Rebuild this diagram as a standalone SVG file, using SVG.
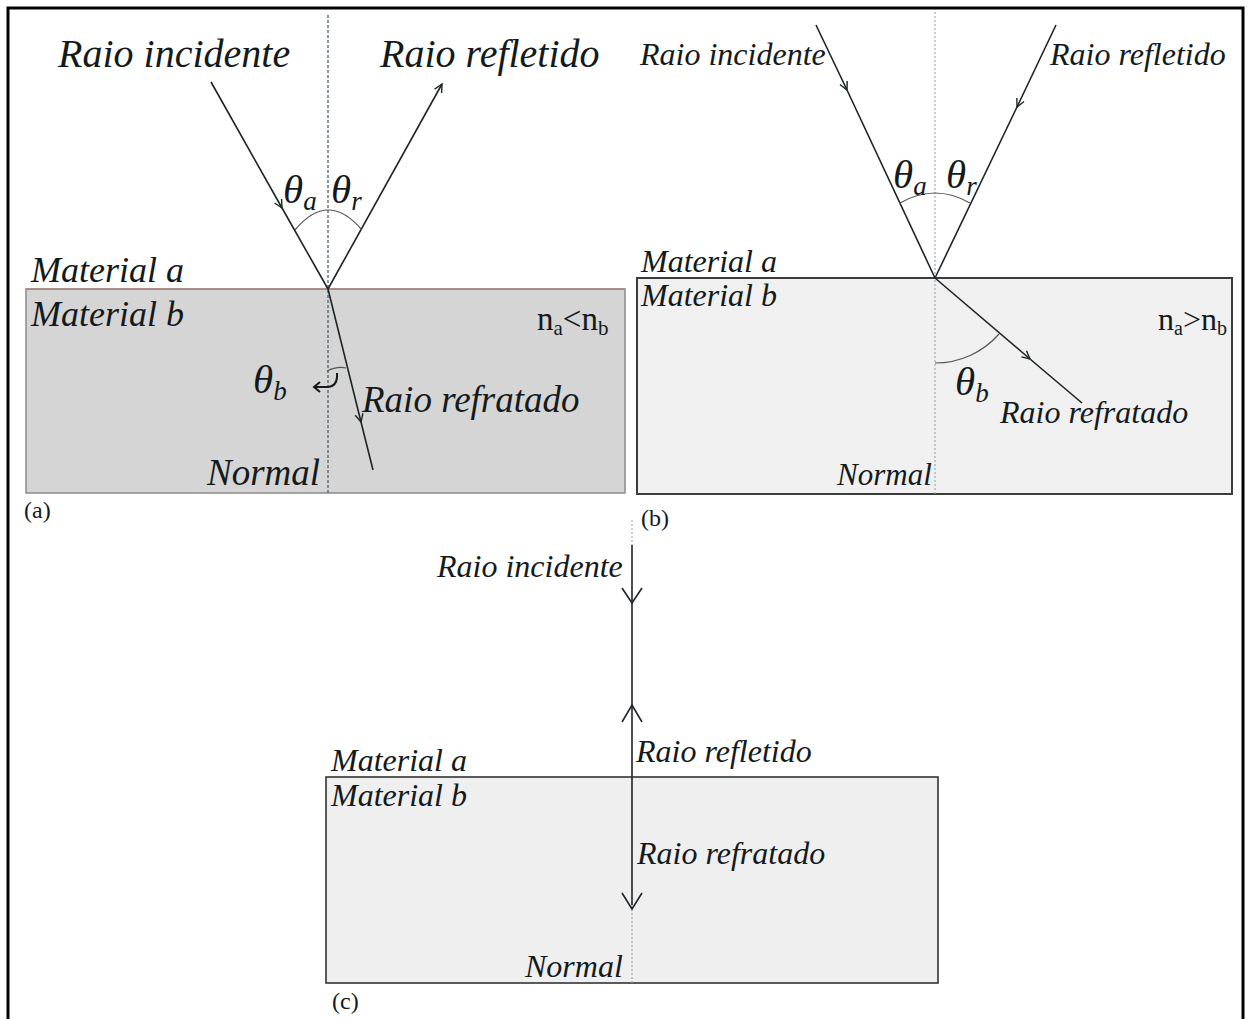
<svg xmlns="http://www.w3.org/2000/svg" width="1248" height="1019" viewBox="0 0 1248 1019">
<style>
.it{font-family:"Liberation Serif","Times New Roman",serif;font-style:italic;fill:#141a1c}
.up{font-family:"Liberation Serif","Times New Roman",serif;fill:#141a1c}
.ray{stroke:#1e2426;stroke-width:1.6;fill:none}
.normA{stroke:#4f5e6c;stroke-width:1.3;stroke-dasharray:3 2;fill:none}
.normB{stroke:#8fa3b0;stroke-width:1.1;stroke-dasharray:2 2;fill:none}
.arc{stroke:#555;stroke-width:1.2;fill:none}
.chev{stroke:#1e2426;stroke-width:1.6;fill:none}
</style>
<defs>
<marker id="arr" viewBox="0 0 10 10" refX="9" refY="5" markerWidth="10" markerHeight="10" markerUnits="userSpaceOnUse" orient="auto">
<path d="M1,1 L9,5 L1,9" fill="none" stroke="#1e2426" stroke-width="1.4"/>
</marker>
</defs>
<rect x="0" y="0" width="1248" height="1019" fill="#fff"/>
<g id="frame" stroke="#000" stroke-width="3" fill="none">
<path d="M8,1019 V8 H1243 V1019"/>
</g>

<g id="panel-a">
<g id="box-a"><rect x="26" y="289" width="599" height="204" fill="#d5d5d5" stroke="#8a8a8a" stroke-width="1.5"/><line x1="26" y1="289" x2="625" y2="289" stroke="#b07a6c" stroke-width="1"/></g>
<line id="normal-a" class="normA" x1="328" y1="15" x2="328" y2="493"/>
<g id="connectors-a">
<polyline class="ray" points="211,82 282,208 328,289" marker-mid="url(#arr)"/>
<line class="ray" x1="328" y1="289" x2="442" y2="84" marker-end="url(#arr)"/>
<polyline class="ray" points="328,289 361,422 373,470" marker-mid="url(#arr)"/>
<path class="arc" d="M295,230 Q328,190 362,230"/>
<path class="arc" d="M327,371 Q337,366 346,368"/>
<path d="M337,373 Q338,386 328,387 L315,387" fill="none" stroke="#141a1c" stroke-width="2"/>
<path d="M320,382 L314,387 L320,392" fill="none" stroke="#141a1c" stroke-width="2"/>
</g>
<text class="it" x="58" y="67" font-size="40">Raio incidente</text>
<text class="it" x="380" y="67" font-size="40">Raio refletido</text>
<text class="it" x="283" y="203" font-size="41">θ<tspan font-size="27" dy="7">a</tspan></text>
<text class="it" x="331" y="203" font-size="41">θ<tspan font-size="27" dy="7">r</tspan></text>
<text class="it" x="31" y="282" font-size="36">Material a</text>
<text class="it" x="31" y="326" font-size="36">Material b</text>
<text class="up" x="537" y="330" font-size="33">n<tspan font-size="21" dy="5">a</tspan><tspan dy="-5">&lt;n</tspan><tspan font-size="21" dy="5">b</tspan></text>
<text class="it" x="253" y="393" font-size="41">θ<tspan font-size="27" dy="7">b</tspan></text>
<text class="it" x="362" y="412" font-size="37">Raio refratado</text>
<text class="it" x="207" y="485" font-size="37">Normal</text>
<text class="up" x="24" y="518" font-size="24">(a)</text>
</g>

<g id="panel-b">
<rect id="box-b" x="637" y="278" width="595" height="216" fill="#f0f0f0" stroke="#3c3c3c" stroke-width="2"/>
<line id="normal-b" class="normB" x1="935" y1="12" x2="935" y2="494"/>
<g id="connectors-b">
<polyline class="ray" points="816,25 847,90 935,278" marker-mid="url(#arr)"/>
<polyline class="ray" points="1056,25 1017,107 935,278" marker-mid="url(#arr)"/>
<polyline class="ray" points="935,278 1030,359 1082,403" marker-mid="url(#arr)"/>
<path class="arc" d="M900,203 Q935,183 970,203" stroke="#4a6a78"/>
<path class="arc" d="M935,363 A85,85 0 0 0 999,334" stroke="#999"/>
</g>
<text class="it" x="640" y="65" font-size="32">Raio incidente</text>
<text class="it" x="1050" y="65" font-size="32">Raio refletido</text>
<text class="it" x="893" y="188" font-size="41">θ<tspan font-size="27" dy="7">a</tspan></text>
<text class="it" x="946" y="188" font-size="41">θ<tspan font-size="27" dy="7">r</tspan></text>
<text class="it" x="641" y="272" font-size="32">Material a</text>
<text class="it" x="641" y="306" font-size="32">Material b</text>
<text class="up" x="1158" y="330" font-size="32">n<tspan font-size="20" dy="5">a</tspan><tspan dy="-5">&gt;n</tspan><tspan font-size="20" dy="5">b</tspan></text>
<text class="it" x="955" y="395" font-size="41">θ<tspan font-size="27" dy="7">b</tspan></text>
<text class="it" x="1000" y="423" font-size="32">Raio refratado</text>
<text class="it" x="837" y="485" font-size="31">Normal</text>
<text class="up" x="641" y="526" font-size="24">(b)</text>
</g>

<g id="panel-c">
<rect id="box-c" x="326" y="777" width="612" height="206" fill="#efefef" stroke="#333" stroke-width="1.6"/>
<g id="connectors-c">
<line class="normB" x1="632" y1="520" x2="632" y2="545"/>
<line class="ray" x1="632" y1="545" x2="632" y2="905"/>
<line class="normB" x1="632" y1="905" x2="632" y2="983"/>
<path class="chev" d="M622,588 L632,603 L642,588"/>
<path class="chev" d="M622,722 L632,705 L642,722"/>
<path class="chev" d="M622,893 L632,909 L642,893"/>
</g>
<text class="it" x="437" y="577" font-size="32">Raio incidente</text>
<text class="it" x="636" y="762" font-size="32">Raio refletido</text>
<text class="it" x="331" y="771" font-size="32">Material a</text>
<text class="it" x="331" y="806" font-size="32">Material b</text>
<text class="it" x="637" y="864" font-size="32">Raio refratado</text>
<text class="it" x="525" y="977" font-size="32">Normal</text>
<text class="up" x="332" y="1009" font-size="24">(c)</text>
</g>
</svg>
